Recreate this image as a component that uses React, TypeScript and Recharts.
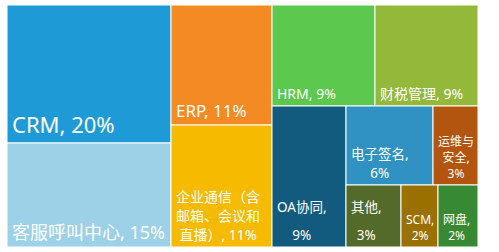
import { Treemap } from 'recharts';

const NAMES = [
  'CRM',
  '客服呼叫中心',
  'ERP',
  '企业通信（含邮箱、会议和直播）',
  'HRM',
  '财税管理',
  'OA协同',
  '电子签名',
  '运维与安全',
  '其他',
  'SCM',
  '网盘',
];
const SHARES = [19.8, 14.9, 10.6, 10.8, 9.1, 9.0, 9.1, 6.0, 3.1, 3.0, 2.0, 2.0];
const LABEL_LINES = [
  ['CRM, 20%'],
  ['客服呼叫中心, 15%'],
  ['ERP, 11%'],
  ['企业通信（含', '邮箱、会议和', '直播）, 11%'],
  ['HRM, 9%'],
  ['财税管理, 9%'],
  ['OA协同,', '9%'],
  ['电子签名,', '6%'],
  ['运维与', '安全,', '3%'],
  ['其他,', '3%'],
  ['SCM,', '2%'],
  ['网盘,', '2%'],
];

const COLORS = [
  '#1e9bd7', '#9dd1e8', '#f48a24', '#f6bb00', '#5cc84e', '#93b83a',
  '#135b7e', '#2f92c2', '#b2550e', '#536a2a', '#9a7100', '#378934',
];
const FONT_SIZES = [22, 18, 17, 14, 14, 14, 13.5, 13.5, 12, 13.5, 12, 12];
const LINE_HEIGHTS = [1.2, 1.2, 1.2, 1.34, 1.2, 1.2, 2.05, 1.38, 1.34, 2.05, 1.34, 1.34];

const FONT = '"Noto Sans", "Noto Sans CJK SC", sans-serif';

const data = NAMES.map((name, i) => ({ name, size: SHARES[i] }));

const ctx = typeof document !== 'undefined' ? document.createElement('canvas').getContext('2d') : null;

function textWidth(s: string, size: number) {
  if (!ctx) return s.length * size * 0.7;
  ctx.font = `${size}px ${FONT}`;
  return ctx.measureText(s).width;
}

function CellContent(props: any) {
  const { x, y, width, height, index, depth } = props;
  if (depth !== 1) return null;
  const fs = FONT_SIZES[index];
  const lh = fs * LINE_HEIGHTS[index];
  const lines = LABEL_LINES[index];
  const blockW = Math.max(...lines.map((l) => textWidth(l, fs)));
  const cx = x + 5 + blockW / 2;
  const lastBase = y + height - (fs * 0.3 + 3);
  return (
    <g>
      <rect x={x} y={y} width={width} height={height} fill={COLORS[index]} stroke="#fff" strokeWidth={1} />
      {lines.map((line, i) => (
        <text
          key={i}
          x={cx}
          y={lastBase - (lines.length - 1 - i) * lh}
          textAnchor="middle"
          fill="#fff"
          fontSize={fs}
          fontFamily={FONT}
        >
          {line}
        </text>
      ))}
    </g>
  );
}

export default function App() {
  return (
    <div style={{ position: 'absolute', left: 7, top: 5 }}>
      <Treemap
        width={471}
        height={242}
        data={data}
        dataKey="size"
        nameKey="name"
        aspectRatio={1}
        isAnimationActive={false}
        content={(p: any) => <CellContent {...p} />}
      />
    </div>
  );
}
